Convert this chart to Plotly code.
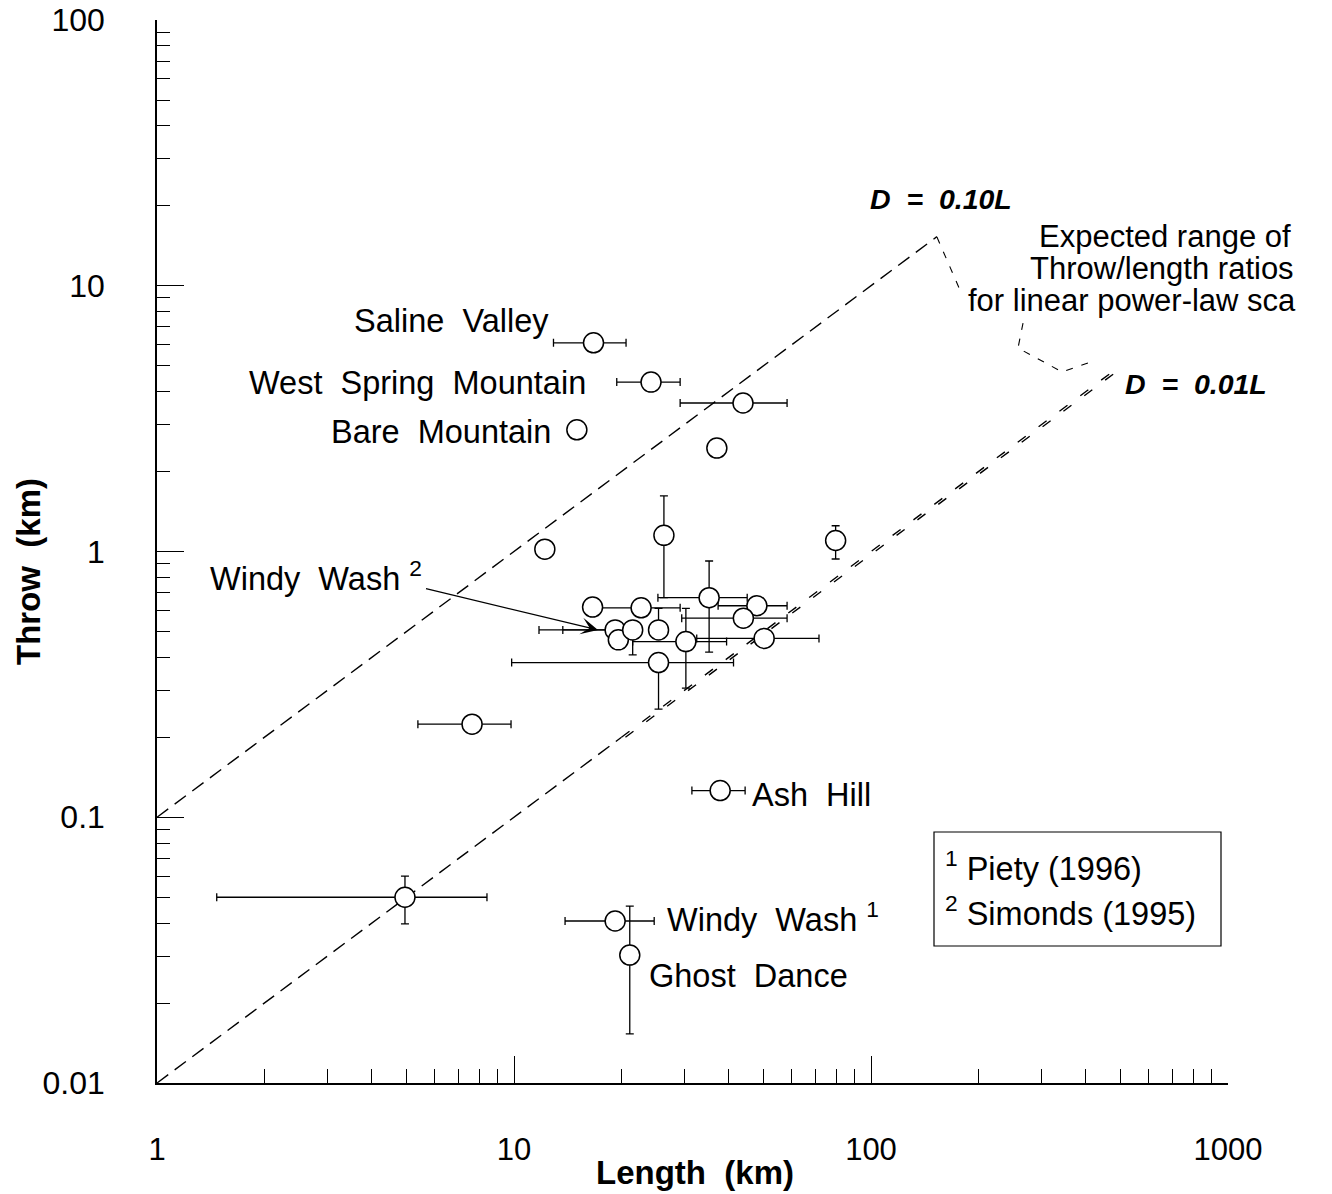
import plotly.graph_objects as go

# ---------------- data ----------------
length = [16.7, 24.2, 15.0, 43.8, 37.0, 12.2, 26.3, 79.6, 16.6, 22.7, 35.2, 47.9, 43.9,
          19.2, 19.6, 21.5, 25.4, 30.3, 50.2, 25.4, 7.63, 37.8, 4.95, 19.2, 21.1]
throw = [6.1, 4.34, 2.87, 3.62, 2.45, 1.02, 1.15, 1.10, 0.618, 0.614, 0.670, 0.625, 0.561,
         0.507, 0.465, 0.507, 0.507, 0.458, 0.471, 0.382, 0.224, 0.126, 0.050, 0.0407, 0.0303]
length_min = [12.9, 19.4, None, 29.2, None, None, None, None, None, 17.5, 25.3, 37.3, 29.5,
              11.75, None, 13.7, None, 21.5, 32.5, 9.85, 5.38, 31.5, 1.47, 13.9, None]
length_max = [20.6, 29.2, None, 58.2, None, None, None, None, None, 29.2, 45.0, 58.2, 58.2,
              None, None, None, None, 39.4, 71.5, 41.2, 9.81, 44.4, 8.40, 24.7, None]
throw_min = [None, None, None, None, None, None, 0.67, 0.937, None, None, 0.418, None, None,
             None, None, 0.408, None, 0.306, None, 0.255, None, None, 0.0397, None, 0.0153]
throw_max = [None, None, None, None, None, None, 1.62, 1.25, None, None, 0.921, None, None,
             None, None, None, 0.611, 0.611, None, None, None, None, 0.060, None, 0.0463]

ratio_high = 0.10
ratio_low = 0.01
line_high_L = [1, 153]
line_low_L = [1, 20, 500]
bracket_top = ([153, 180], [15.25, 9.23])
bracket_bottom = ([266.6, 258.1, 342.8, 426.9], [7.24, 5.83, 4.74, 5.25])

x_tick_vals = [1, 10, 100, 1000]
x_tick_text = ["1", "10", "100", "1000"]
y_tick_vals = [0.01, 0.1, 1, 10, 100]
y_tick_text = ["0.01", "0.1", "1", "10", "100"]

# ---------------- layout helpers ----------------
W, H = 1332, 1194
ML, MR, MT, MB = 157, 104, 20, 111
PW, PH = W - ML - MR, H - MT - MB
FONT = "Liberation Sans, Arial, Helvetica, sans-serif"


def px(x):
    return (x - ML) / PW


def py(y):
    return (H - MB - y) / PH


def minus(v, lo):
    return 0 if lo is None else v - lo


def plus(v, hi):
    return 0 if hi is None else hi - v


fig = go.Figure()

dash_a = "14px,8px"
# D = 0.10L
fig.add_trace(go.Scatter(x=line_high_L, y=[ratio_high * v for v in line_high_L], mode="lines",
                         line=dict(color="black", width=1.4, dash=dash_a), hoverinfo="skip"))
# D = 0.01L (single part, then doubled part)
fig.add_trace(go.Scatter(x=line_low_L[:2], y=[ratio_low * v for v in line_low_L[:2]], mode="lines",
                         line=dict(color="black", width=1.4, dash=dash_a), hoverinfo="skip"))
shift = 1.026
for f in (1.0, shift):
    xs = [v * f for v in line_low_L[1:]]
    fig.add_trace(go.Scatter(x=xs, y=[ratio_low * v / f for v in xs], mode="lines",
                             line=dict(color="black", width=1.4, dash="10px,16px"), hoverinfo="skip"))
# bracket
for bx, by in (bracket_top, bracket_bottom):
    fig.add_trace(go.Scatter(x=bx, y=by, mode="lines",
                             line=dict(color="black", width=1.1, dash="7px,9px"), hoverinfo="skip"))

# data points
fig.add_trace(go.Scatter(
    x=length, y=throw, mode="markers",
    marker=dict(symbol="circle", size=20, color="white", line=dict(color="black", width=1.5)),
    error_x=dict(type="data", symmetric=False,
                 array=[plus(v, h) for v, h in zip(length, length_max)],
                 arrayminus=[minus(v, l) for v, l in zip(length, length_min)],
                 color="black", thickness=1.3, width=4),
    error_y=dict(type="data", symmetric=False,
                 array=[plus(v, h) for v, h in zip(throw, throw_max)],
                 arrayminus=[minus(v, l) for v, l in zip(throw, throw_min)],
                 color="black", thickness=1.3, width=4),
    hoverinfo="x+y"))

big = dict(family=FONT, size=32.5, color="black")
ann = []


def label(text, x, y, anchor="left", font=big):
    ann.append(dict(text=text, x=px(x), y=py(y), xref="paper", yref="paper", showarrow=False,
                    xanchor=anchor, yanchor="middle", font=font))


label("Saline  Valley", 551, 321, "right")
label("West  Spring  Mountain", 588, 383, "right")
label("Bare  Mountain", 553, 432, "right")
label("Windy  Wash <sup>2</sup>", 208, 576, "left")
label("Ash  Hill", 750, 795, "left")
label("Windy  Wash <sup>1</sup>", 665, 917, "left")
label("Ghost  Dance", 647, 976, "left")

bi = dict(family=FONT, size=28.5, color="black")
label("<b><i>D  =  0.10L</i></b>", 868, 199, "left", bi)
label("<b><i>D  =  0.01L</i></b>", 1123, 384, "left", bi)

mid = dict(family=FONT, size=31, color="black")
label("Expected range of", 1165, 236, "center", mid)
label("Throw/length ratios", 1162, 268, "center", mid)
label("for linear power-law sca", 966, 300, "left", mid)

label("<sup>1</sup> Piety (1996)", 943, 866, "left")
label("<sup>2</sup> Simonds (1995)", 943, 911, "left")

title_font = dict(family=FONT, size=33, color="black")
ann.append(dict(text="<b>Length  (km)</b>", x=px(695), y=py(1172), xref="paper", yref="paper",
                showarrow=False, xanchor="center", yanchor="middle", font=title_font))
ann.append(dict(text="<b>Throw  (km)</b>", x=px(28), y=py(572), xref="paper", yref="paper",
                showarrow=False, xanchor="center", yanchor="middle", textangle=-90, font=title_font))

# arrow for Windy Wash 2
ann.append(dict(text=" ", x=px(598), y=py(630), xref="paper", yref="paper", showarrow=True,
                ax=423 - 598, ay=588 - 630, arrowhead=3, arrowsize=2.2, arrowwidth=1.3,
                arrowcolor="black", standoff=0, font=dict(family=FONT, size=10)))

fig.add_shape(type="rect", xref="paper", yref="paper", x0=px(934), x1=px(1221), y0=py(946), y1=py(832),
              line=dict(color="black", width=1.2), fillcolor="rgba(0,0,0,0)")

minor_x = [m * 10 ** e for e in range(0, 3) for m in range(2, 10)]
minor_y = [m * 10 ** e for e in range(-2, 2) for m in range(2, 10)]

fig.update_layout(
    width=W, height=H, margin=dict(l=ML, r=MR, t=MT, b=MB, autoexpand=False),
    paper_bgcolor="white", plot_bgcolor="white", showlegend=False,
    annotations=ann,
    xaxis=dict(type="log", range=[0, 3], showline=True, linecolor="black", linewidth=1.5,
               ticks="inside", ticklen=27, tickwidth=1.3, tickcolor="black", automargin=False,
               tickmode="array", tickvals=x_tick_vals, ticktext=x_tick_text,
               tickfont=dict(family=FONT, size=31, color="black"), ticklabelstandoff=38,
               showgrid=False, zeroline=False,
               minor=dict(tickmode="array", tickvals=minor_x, ticks="inside", ticklen=14,
                          tickwidth=1.2, tickcolor="black", showgrid=False)),
    yaxis=dict(type="log", range=[-2, 2], showline=True, linecolor="black", linewidth=1.5,
               ticks="inside", ticklen=27, tickwidth=1.3, tickcolor="black", automargin=False,
               tickmode="array", tickvals=y_tick_vals, ticktext=y_tick_text,
               tickfont=dict(family=FONT, size=32, color="black"), ticklabelstandoff=44,
               showgrid=False, zeroline=False,
               minor=dict(tickmode="array", tickvals=minor_y, ticks="inside", ticklen=13,
                          tickwidth=1.2, tickcolor="black", showgrid=False)),
)

fig.write_html("out.html", config={"displayModeBar": False},
               post_script="document.body.style.margin='0';")
